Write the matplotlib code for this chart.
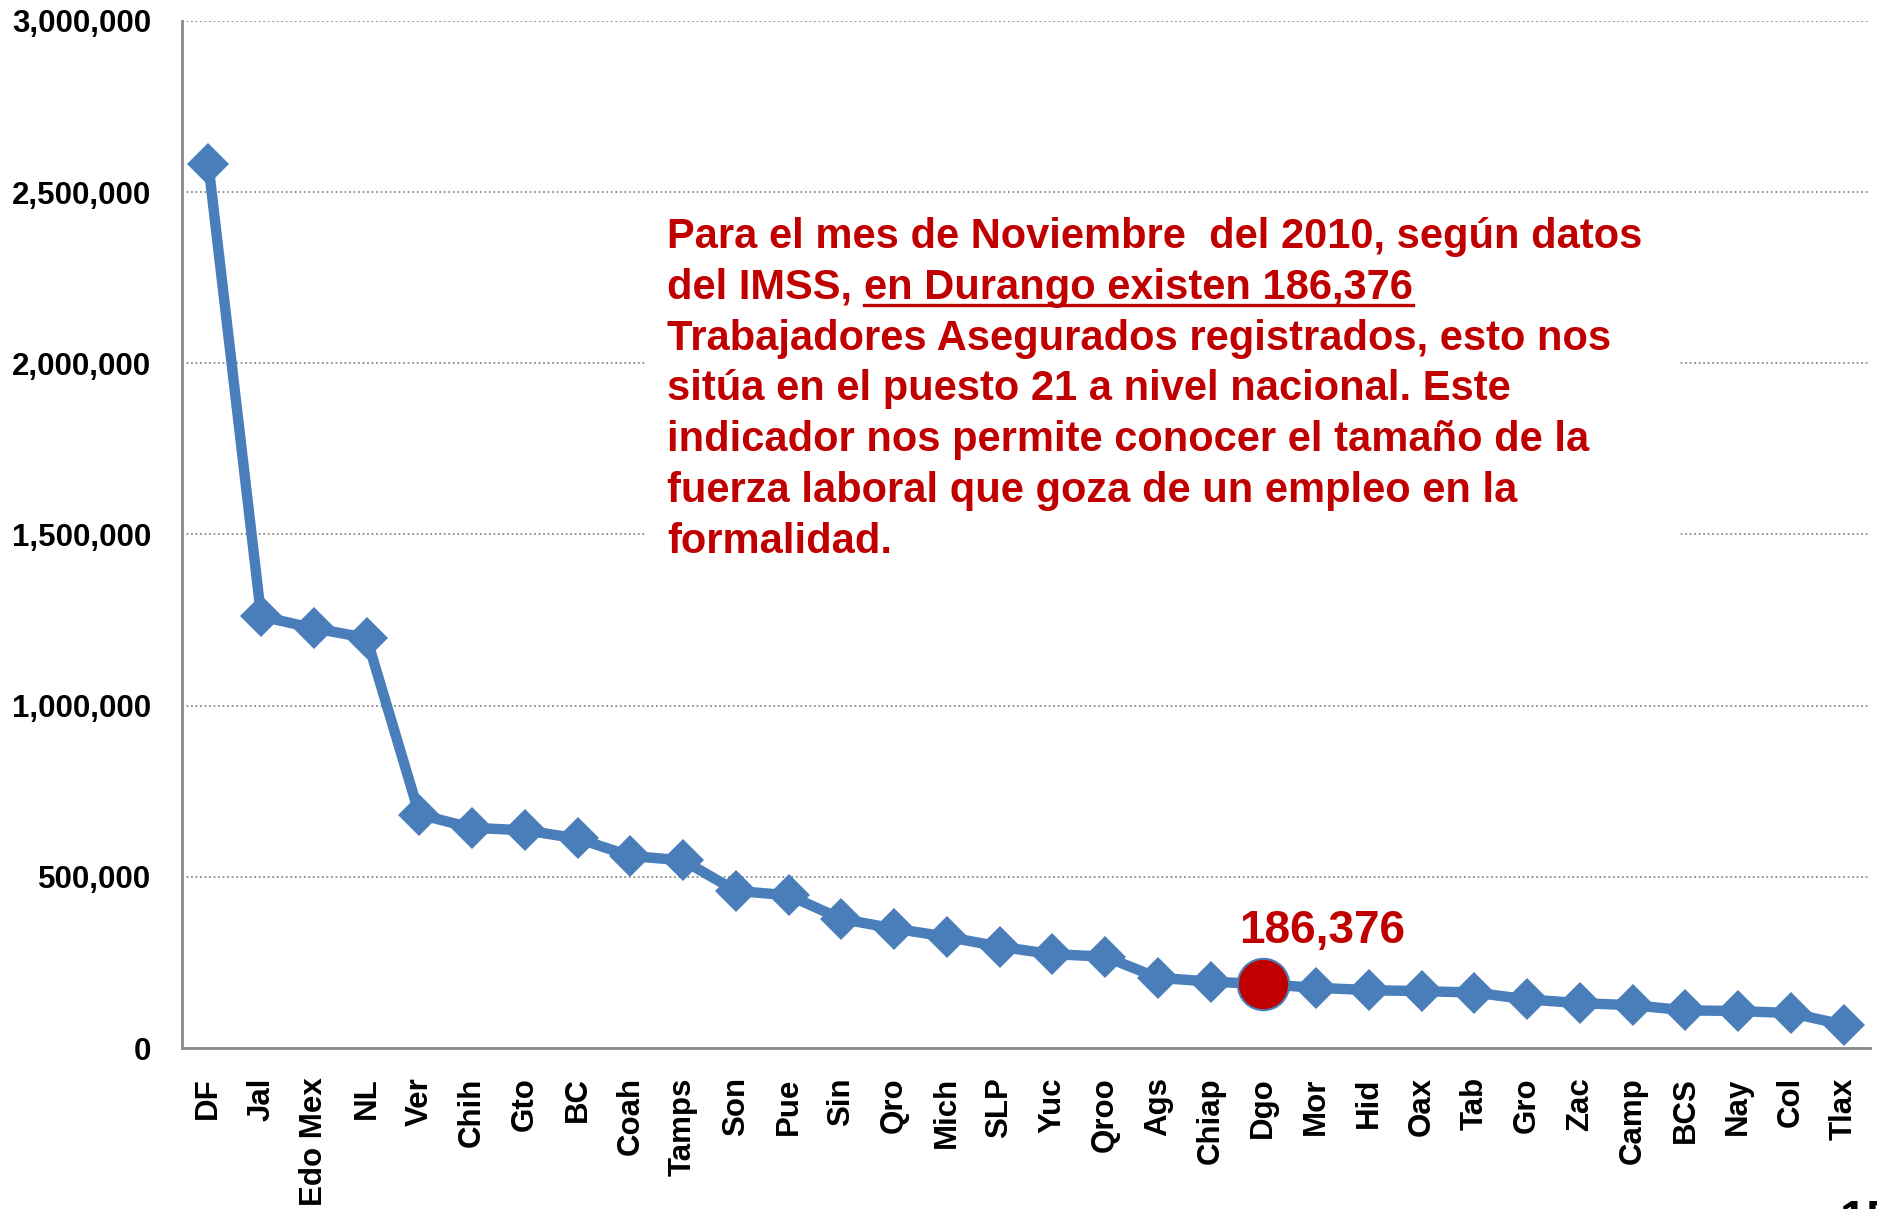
import matplotlib.pyplot as plt
from matplotlib.lines import Line2D
from matplotlib.patches import Rectangle
from matplotlib.ticker import FuncFormatter

states = ["DF", "Jal", "Edo Mex", "NL", "Ver", "Chih", "Gto", "BC", "Coah", "Tamps",
          "Son", "Pue", "Sin", "Qro", "Mich", "SLP", "Yuc", "Qroo", "Ags", "Chiap",
          "Dgo", "Mor", "Hid", "Oax", "Tab", "Gro", "Zac", "Camp", "BCS", "Nay",
          "Col", "Tlax"]
workers = [2582000, 1261000, 1226000, 1198000, 682000, 643000, 636000, 612000, 561000, 548000,
           459000, 446000, 377000, 349000, 325000, 296000, 274000, 267000, 205000, 194000,
           186376, 176000, 169000, 166000, 162000, 142000, 131000, 125000, 110000, 108000,
           102000, 68000]
highlight = "Dgo"
highlight_label = "186,376"

note_lines = [
    "Para el mes de Noviembre  del 2010, según datos",
    None,  # second line is built in two pieces (part of it underlined)
    "Trabajadores Asegurados registrados, esto nos",
    "sitúa en el puesto 21 a nivel nacional. Este",
    "indicador nos permite conocer el tamaño de la",
    "fuerza laboral que goza de un empleo en la",
    "formalidad.",
]
note_line2 = ["del IMSS, ", "en Durango existen 186,376"]

plt.rcParams['font.family'] = ['Liberation Sans', 'DejaVu Sans']
plt.rcParams['font.weight'] = 'bold'

blue = '#4A7EBB'
red = '#C00000'
W, H = 1877, 1209
note_size = 30

fig = plt.figure(figsize=(W / 100, H / 100), dpi=100)
ax = fig.add_axes([182 / W, 1 - 1048 / H, (1870 - 182) / W, (1048 - 21) / H])

x = list(range(len(states)))
ax.plot(x, workers, color=blue, lw=7.5, marker='D', markersize=21, markeredgewidth=0,
        solid_joinstyle='miter', zorder=3)
i = states.index(highlight)
ax.plot([i], [workers[i]], 'o', markersize=37, markerfacecolor=red, markeredgecolor=blue,
        markeredgewidth=1.5, zorder=4)
ax.annotate(highlight_label, xy=(i, workers[i]), xytext=(42, 30), textcoords='offset points',
            ha='center', va='baseline', color=red, fontsize=33, fontweight='bold')

ax.set_xlim(-0.5, len(states) - 0.5)
ax.set_ylim(0, 3000000)
ax.set_yticks(range(0, 3000001, 500000))
ax.yaxis.set_major_formatter(FuncFormatter(lambda v, p: f"{int(v):,}"))
ax.set_xticks(x)
ax.set_xticklabels(states, rotation=90)
ax.tick_params(axis='y', length=0, pad=22, labelsize=22.5)
ax.tick_params(axis='x', length=0, pad=21, labelsize=22.5)
for lab in ax.get_xticklabels() + ax.get_yticklabels():
    lab.set_fontweight('bold')

ax.yaxis.grid(True, linestyle=(0, (1, 1.5)), color='#8c8c8c', linewidth=1.3)
ax.set_axisbelow(True)
for s in ['top', 'right']:
    ax.spines[s].set_visible(False)
for s in ['left', 'bottom']:
    ax.spines[s].set_color('#8a8a8a')
    ax.spines[s].set_linewidth(2)

# white box behind the note
fig.patches.append(Rectangle((646 / W, 1 - 575 / H), (1680 - 646) / W, (575 - 205) / H,
                             transform=fig.transFigure, facecolor='white', edgecolor='none',
                             zorder=1))

x0 = 667 / W
base0 = 248
step = 50.8
for k, line in enumerate(note_lines):
    if line is None:
        continue
    fig.text(x0, 1 - (base0 + k * step) / H, line, color=red, fontsize=note_size,
             fontweight='bold', va='baseline', ha='left', zorder=3)

y2 = 1 - (base0 + step) / H
t1 = fig.text(x0, y2, note_line2[0], color=red, fontsize=note_size, fontweight='bold',
              va='baseline', ha='left', zorder=3)
fig.canvas.draw()
r = fig.canvas.get_renderer()
e1 = t1.get_window_extent(r)
t2 = fig.text(e1.x1 / W, y2, note_line2[1], color=red, fontsize=note_size, fontweight='bold',
              va='baseline', ha='left', zorder=3)
e2 = t2.get_window_extent(r)
uy = y2 - 6 / H
fig.lines.append(Line2D([e2.x0 / W, e2.x1 / W], [uy, uy], transform=fig.transFigure,
                        color=red, linewidth=2.4, zorder=3))

# page number, cut off at the bottom edge as in the slide
fig.text(1840 / W, 1 - 1199 / H, "15", fontsize=34, fontweight='bold', va='top', ha='left')

fig.savefig('out.png', dpi=100)
